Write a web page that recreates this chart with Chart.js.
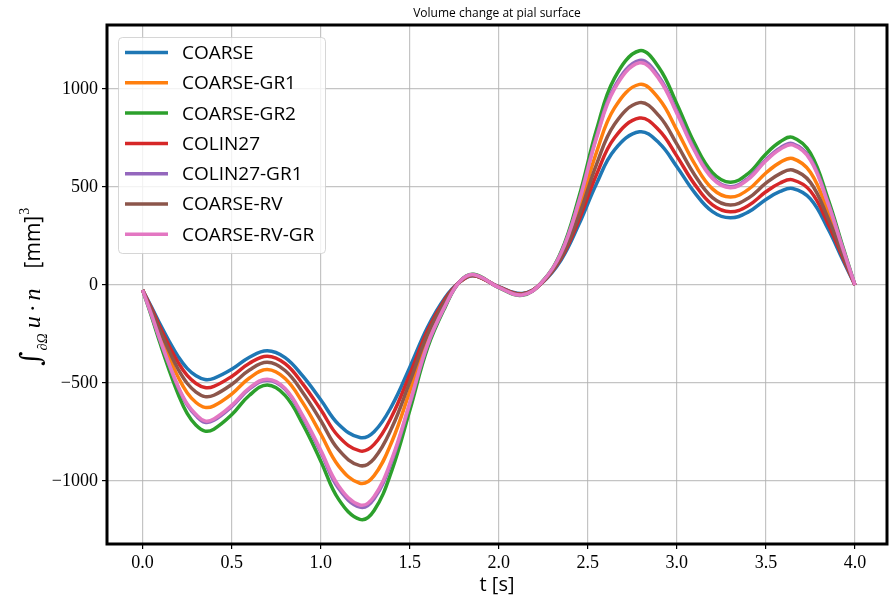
<!DOCTYPE html>
<html>
<head>
<meta charset="utf-8">
<script src="https://cdn.jsdelivr.net/npm/chart.js@4.4.1/dist/chart.umd.min.js"></script>
<style>
  html, body { margin: 0; padding: 0; background: #fff; }
  #wrap { width: 889px; height: 602px; position: relative; }
</style>
</head>
<body>
<div id="wrap"><canvas id="volumeChart" width="889" height="602"></canvas></div>
<script>
// time samples [s]
const times = [0, 0.05, 0.1, 0.15, 0.2, 0.25, 0.3, 0.35, 0.4, 0.5, 0.6, 0.7, 0.8, 0.9, 1.0, 1.1, 1.22, 1.3, 1.4, 1.5,
    1.6, 1.7, 1.78, 1.86, 2.0, 2.13, 2.24, 2.35, 2.45, 2.55, 2.65, 2.79, 2.9, 3.0, 3.1, 3.2, 3.3, 3.4, 3.5, 3.58,
    3.65, 3.75, 3.85, 3.93, 4.0];

const coarse = [-25, -112, -203, -288, -365, -425, -463, -482, -476, -430, -368, -335, -370, -465, -585, -710, -778, -748, -615, -420,
    -215, -62, 15, 47, -8, -43, 9, 128, 310, 520, 690, 782, 725, 604, 472, 375, 343, 372, 437, 478,
    493, 440, 285, 132, 0];
const coarseGr1 = [-25, -139, -258, -370, -470, -549, -599, -624, -616, -556, -474, -431, -477, -601, -759, -922, -1011, -972, -798, -542,
    -274, -92, 16, 51, -11, -48, 11, 152, 385, 681, 904, 1024, 950, 791, 618, 491, 449, 487, 572, 626,
    646, 576, 373, 173, 0];
const coarseGr2 = [-25, -160, -302, -436, -557, -655, -715, -745, -735, -662, -562, -510, -563, -711, -897, -1092, -1195, -1150, -944, -640,
    -321, -110, 18, 55, -13, -52, 13, 170, 450, 796, 1056, 1196, 1109, 924, 722, 574, 525, 569, 669, 731,
    754, 673, 436, 202, 0];
const colin27 = [-25, -120, -219, -312, -396, -461, -502, -523, -517, -466, -399, -363, -401, -505, -635, -772, -846, -813, -668, -456,
    -232, -70, 15, 48, -9, -45, 10, 136, 332, 567, 752, 852, 790, 658, 514, 409, 374, 405, 476, 521,
    537, 480, 311, 144, 0];
const colin27Gr1 = [-25, -152, -286, -410, -523, -611, -667, -700, -690, -620, -530, -485, -532, -675, -852, -1037, -1133, -1090, -896, -608,
    -306, -104, 17, 53, -12, -50, 12, 164, 428, 762, 1011, 1146, 1062, 885, 691, 549, 502, 545, 640, 700,
    722, 645, 418, 193, 0];
const coarseRv = [-25, -129, -237, -338, -430, -501, -546, -569, -562, -507, -433, -394, -436, -549, -691, -840, -921, -885, -727, -495,
    -251, -80, 15, 49, -10, -46, 10, 143, 355, 619, 821, 931, 863, 719, 562, 446, 408, 443, 520, 569,
    587, 524, 339, 157, 0];
const coarseRvGr = [-25, -151, -283, -406, -518, -605, -660, -693, -683, -614, -524, -480, -527, -667, -842, -1024, -1122, -1078, -885, -601,
    -302, -103, 17, 53, -12, -50, 12, 163, 425, 754, 1001, 1134, 1051, 876, 684, 544, 497, 539, 634, 693,
    715, 638, 413, 191, 0];

const seriesNames = ['COARSE', 'COARSE-GR1', 'COARSE-GR2', 'COLIN27', 'COLIN27-GR1', 'COARSE-RV', 'COARSE-RV-GR'];
const seriesValues = [coarse, coarseGr1, coarseGr2, colin27, colin27Gr1, coarseRv, coarseRvGr];
const seriesColors = ['#1f77b4', '#ff7f0e', '#2ca02c', '#d62728', '#9467bd', '#8c564b', '#e377c2'];

const xTicks = [0, 0.5, 1, 1.5, 2, 2.5, 3, 3.5, 4];
const xTickLabels = ['0.0', '0.5', '1.0', '1.5', '2.0', '2.5', '3.0', '3.5', '4.0'];
const yTicks = [-1000, -500, 0, 500, 1000];
const yTickLabels = ['\u22121000', '\u2212500', '0', '500', '1000'];

const titleText = 'Volume change at pial surface';
const xLabelText = 't [s]';

// frame, titles, axis label and legend drawn on top of the plot
const decorations = {
    id: 'decorations',
    afterDraw(chart) {
        const ctx = chart.ctx;
        const area = chart.chartArea;
        ctx.save();

        // axes frame
        ctx.strokeStyle = '#000';
        ctx.lineWidth = 3;
        ctx.strokeRect(area.left, area.top, area.right - area.left, area.bottom - area.top);

        // title
        ctx.fillStyle = '#000';
        ctx.textAlign = 'center';
        ctx.textBaseline = 'alphabetic';
        ctx.font = '12px "Open Sans"';
        const cx = (area.left + area.right) / 2;
        ctx.fillText(titleText, cx, 17);

        // x label
        ctx.font = '20px "Open Sans"';
        ctx.fillText(xLabelText, cx, 591);

        // y label (rotated, mixed fonts)
        ctx.save();
        ctx.translate(40, 366);
        ctx.rotate(-Math.PI / 2);
        ctx.textAlign = 'left';
        let x = 0;
        ctx.font = '28px "DejaVu Serif"';
        ctx.fillText('\u222B', x, 0);
        x += ctx.measureText('\u222B').width + 1;
        ctx.font = 'italic 14px "Liberation Serif"';
        ctx.fillText('\u2202\u03A9', x, 7);
        x += ctx.measureText('\u2202\u03A9').width + 5;
        ctx.font = 'italic 24px "Liberation Serif"';
        ctx.fillText('u', x, 0);
        x += ctx.measureText('u').width + 4;
        ctx.font = '24px "Liberation Serif"';
        ctx.fillText('\u00B7', x, 0);
        x += ctx.measureText('\u00B7').width + 4;
        ctx.font = 'italic 24px "Liberation Serif"';
        ctx.fillText('n', x, 0);
        x += ctx.measureText('n').width + 20;
        ctx.font = '21px "Open Sans"';
        ctx.fillText('[mm]', x, 0);
        x += ctx.measureText('[mm]').width + 1;
        ctx.font = '14px "Liberation Serif"';
        ctx.fillText('3', x, -11);
        ctx.restore();

        // legend
        const lx = 118, ly = 37, lw = 207, lh = 216;
        ctx.beginPath();
        ctx.roundRect(lx + 0.5, ly + 0.5, lw, lh, 4);
        ctx.fillStyle = 'rgba(255,255,255,0.8)';
        ctx.fill();
        ctx.strokeStyle = 'rgba(204,204,204,0.8)';
        ctx.lineWidth = 1;
        ctx.stroke();
        ctx.font = '19px "Open Sans"';
        ctx.textAlign = 'left';
        ctx.textBaseline = 'middle';
        seriesNames.forEach((name, i) => {
            const y = 52.5 + i * 30.3;
            ctx.strokeStyle = seriesColors[i];
            ctx.lineWidth = 3.5;
            ctx.beginPath();
            ctx.moveTo(125, y);
            ctx.lineTo(168, y);
            ctx.stroke();
            ctx.fillStyle = '#000';
            ctx.fillText(name, 182, y + 1);
        });

        ctx.restore();
    },
};

const ctx = document.getElementById('volumeChart').getContext('2d');

new Chart(ctx, {
    type: 'line',
    data: {
        datasets: seriesNames.map((name, i) => ({
            label: name,
            data: times.map((t, j) => ({ x: t, y: seriesValues[i][j] })),
            borderColor: seriesColors[i],
            backgroundColor: seriesColors[i],
            borderWidth: 3.5,
            pointRadius: 0,
            fill: false,
            tension: 0.4,
            order: seriesNames.length - i,
        })),
    },
    options: {
        responsive: false,
        animation: false,
        devicePixelRatio: 1,
        layout: {
            padding: { top: 25, right: 2, left: 0, bottom: 0 },
        },
        plugins: {
            legend: { display: false },
            title: { display: false },
            tooltip: { enabled: false },
        },
        scales: {
            x: {
                type: 'linear',
                min: -0.2,
                max: 4.18,
                afterFit(scale) {
                    scale.height = 58;
                },
                afterBuildTicks(scale) {
                    scale.ticks = xTicks.map((v) => ({ value: v }));
                },
                grid: {
                    color: 'rgba(176,176,176,0.75)',
                    lineWidth: 1.2,
                    drawTicks: true,
                    tickLength: 5,
                    tickColor: '#000',
                },
                border: { display: false },
                ticks: {
                    color: '#000',
                    padding: 3,
                    maxRotation: 0,
                    autoSkip: false,
                    font: { family: '"Liberation Serif"', size: 18 },
                    callback: (value) => {
                        const k = xTicks.indexOf(value);
                        return k >= 0 ? xTickLabels[k] : '';
                    },
                },
            },
            y: {
                type: 'linear',
                min: -1321,
                max: 1327,
                afterFit(scale) {
                    scale.width = 107;
                },
                afterBuildTicks(scale) {
                    scale.ticks = yTicks.map((v) => ({ value: v }));
                },
                grid: {
                    color: 'rgba(176,176,176,0.75)',
                    lineWidth: 1.2,
                    drawTicks: true,
                    tickLength: 5,
                    tickColor: '#000',
                },
                border: { display: false },
                ticks: {
                    color: '#000',
                    padding: 4,
                    autoSkip: false,
                    font: { family: '"Liberation Serif"', size: 18 },
                    callback: (value) => {
                        const k = yTicks.indexOf(value);
                        return k >= 0 ? yTickLabels[k] : '';
                    },
                },
            },
        },
    },
    plugins: [decorations],
});
</script>
</body>
</html>
